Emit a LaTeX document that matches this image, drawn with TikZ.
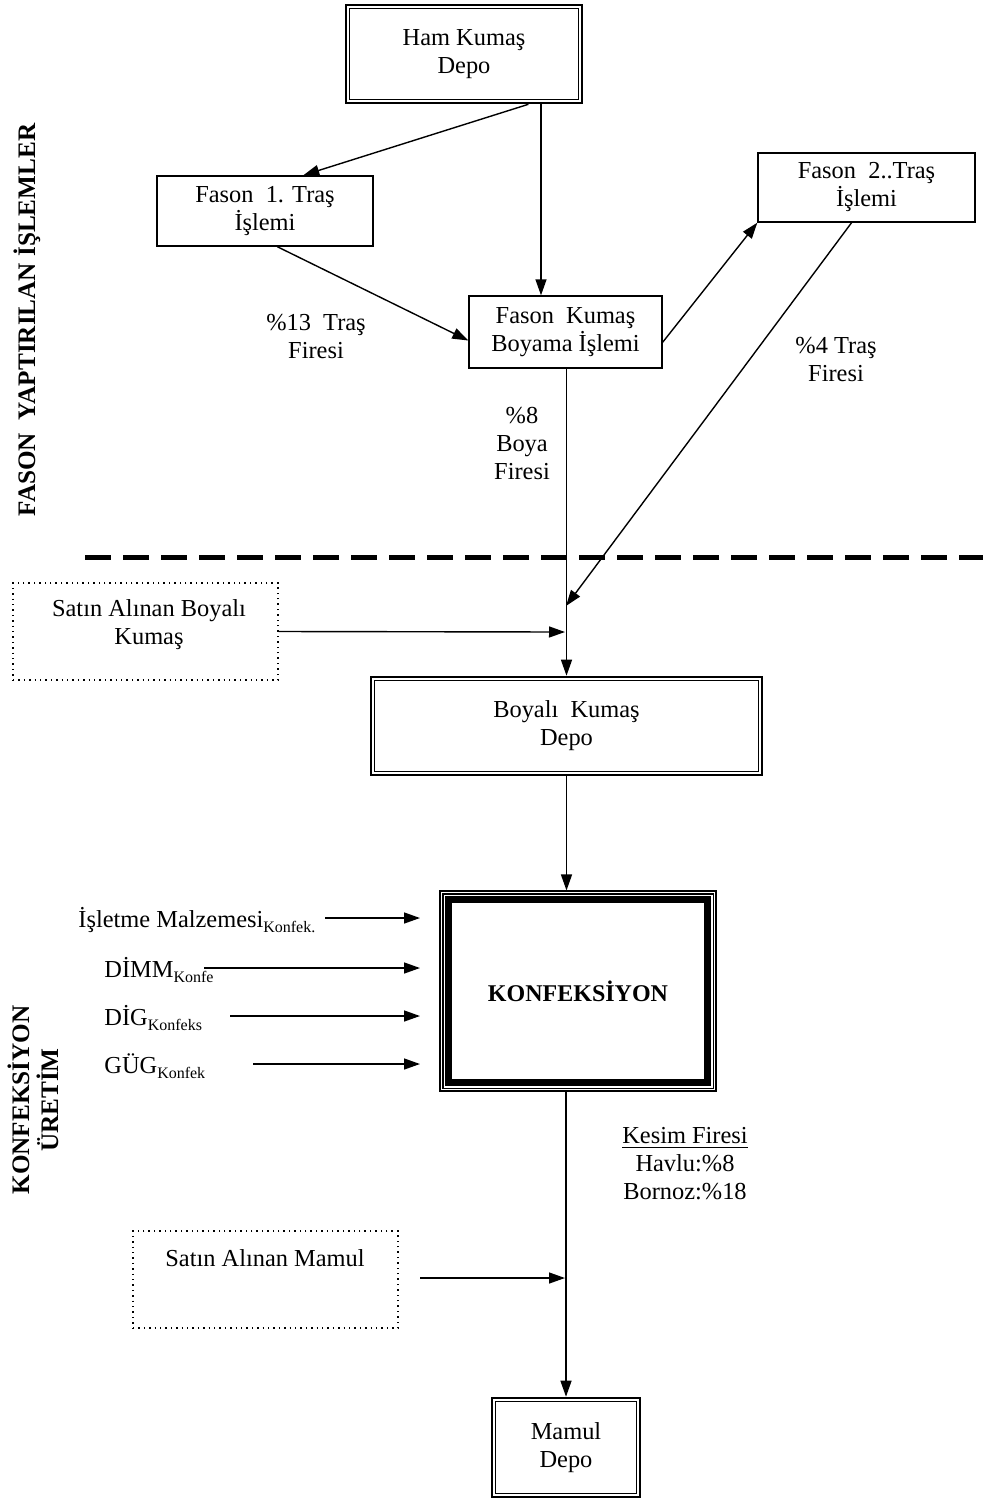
\documentclass[tikz,border=0pt]{standalone}
\usepackage{fontspec}
\setmainfont{Liberation Serif}
\usetikzlibrary{arrows.meta}
\newcommand{\subtxt}[1]{\raisebox{-0.45ex}{\fontsize{8}{9}\selectfont #1}}
\begin{document}
\begin{tikzpicture}[x=0.5pt,y=-0.5pt,
  every node/.style={font=\fontsize{12.2}{14}\selectfont, align=center, inner sep=0pt},
  box/.style={draw, line width=0.7pt},
  dbl/.style={draw, line width=1.3pt},
  dotbox/.style={draw, line width=0.7pt, dotted},
  arr/.style={-{Triangle[length=8pt,width=5.5pt]}, line width=0.7pt},
  inner/.style={line width=0.7pt},
  vlabel/.style={rotate=90, font=\fontsize{12.6}{14.5}\selectfont\bfseries}]
\useasboundingbox (0,0) rectangle (983,1500);

% side labels
\node[vlabel] (lab1) at (27,320) {FASON\ \ YAPTIRILAN İŞLEMLER};
\node[vlabel] (lab2) at (33,1100) {KONFEKSİYON\\ÜRETİM};

% boxes
\node[dbl, minimum width=118pt, minimum height=49pt] (ham) at (464,54) {Ham Kumaş\\Depo};
\draw[inner] ([shift={(5,5)}]ham.north west) rectangle ([shift={(-5,-5)}]ham.south east);

\node[box, minimum width=108pt, minimum height=35pt] (f1) at (265,211) {Fason\ \ 1. Traş\\İşlemi};
\node[box, minimum width=96.5pt, minimum height=36pt] (boy) at (565.5,332) {Fason\ \ Kumaş\\Boyama İşlemi};
\node[box, minimum width=108.5pt, minimum height=34.5pt] (f2) at (866.5,187.5) {Fason\ \ 2..Traş\\İşlemi};

\node[dotbox, minimum width=132.5pt, minimum height=48.5pt] (sbk) at (145.5,631.5) {};
\node (sbktxt) at (149,625) {Satın Alınan Boyalı\\Kumaş};

\node[dbl, minimum width=195.5pt, minimum height=49pt] (bdep) at (566.5,726) {Boyalı\ \ Kumaş\\Depo};
\draw[inner] ([shift={(5,5)}]bdep.north west) rectangle ([shift={(-5,-5)}]bdep.south east);

\node[draw, line width=0.55pt, minimum width=138pt, minimum height=100pt] (konf) at (578,991) {\fontsize{12}{14}\selectfont\bfseries KONFEKSİYON};
\draw[line width=0.55pt] ([shift={(3.5,3.5)}]konf.north west) rectangle ([shift={(-3.5,-3.5)}]konf.south east);
\draw[line width=3.5pt] ([shift={(9.5,9.5)}]konf.north west) rectangle ([shift={(-9.5,-9.5)}]konf.south east);

\node[dotbox, minimum width=132.5pt, minimum height=48.5pt] (smam) at (265.5,1279.5) {};
\node (smamtxt) at (265,1258) {Satın Alınan Mamul};

\node[dbl, minimum width=74pt, minimum height=49.5pt] (mdep) at (566,1447.5) {Mamul\\Depo};
\draw[inner] ([shift={(5,5)}]mdep.north west) rectangle ([shift={(-5,-5)}]mdep.south east);

% coordinates
\coordinate (fx) at (541,0);
\coordinate (j1) at (566,606);
\coordinate (j2) at (565,632);
\coordinate (ia) at (325,918);  \coordinate (ib) at (420,918);
\coordinate (da) at (204,968);  \coordinate (db) at (420,968);
\coordinate (ga) at (230,1016); \coordinate (gb) at (420,1016);
\coordinate (ua) at (253,1064); \coordinate (ub) at (420,1064);
\coordinate (ma) at (420,1278); \coordinate (mb) at (565,1278);

% connectors
\draw[arr] (ham.-38) -- (f1.43);
\draw[arr] (ham.south -| fx) -- (boy.north -| fx);
\draw[arr] (f1.-71) -- (boy.185);
\draw[arr] (boy.-6.5) -- (f2.south west);
\draw[arr] (f2.247) -- (j1);
\draw[arr] (boy.south -| bdep.north) -- (bdep.north);
\draw[arr] (sbk.east) -- (j2);
\draw[arr] (bdep.south) -- (bdep.south |- konf.north);
\draw[arr] (konf.south -| mdep.north) -- (mdep.north);
\draw[arr] (ia) -- (ib);
\draw[arr] (da) -- (db);
\draw[arr] (ga) -- (gb);
\draw[arr] (ua) -- (ub);
\draw[arr] (ma) -- (mb);

% dashed separator
\draw[line width=2.5pt, dash pattern=on 13pt off 6pt] (85,557) -- (983,557);

% labels
\node (l13) at (316,336) {\%13\ \ Traş\\Firesi};
\node (l8) at (522,443) {\%8\\Boya\\Firesi};
\node (l4) at (836,359) {\%4 Traş\\Firesi};
\node (lk) at (685,1164) {\underline{Kesim Firesi}\\Havlu:\%8\\Bornoz:\%18};

\node[anchor=west] (t1) at (78,920) {İşletme Malzemesi\subtxt{Konfek.}};
\node[anchor=west] (t2) at (104,970) {DİMM\subtxt{Konfe}};
\node[anchor=west] (t3) at (104,1018) {DİG\subtxt{Konfeks}};
\node[anchor=west] (t4) at (104,1066) {GÜG\subtxt{Konfek}};
\end{tikzpicture}
\end{document}
